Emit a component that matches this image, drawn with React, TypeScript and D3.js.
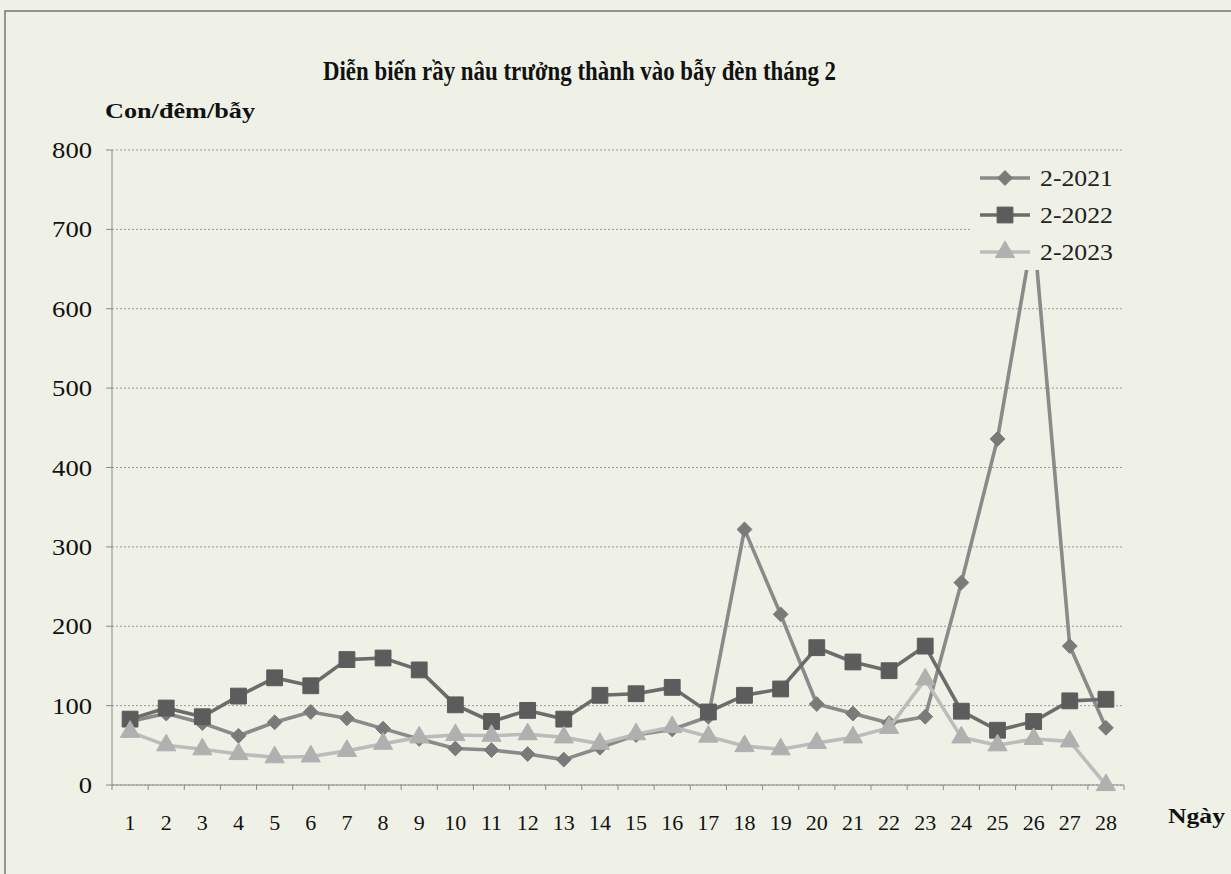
import React from 'react';
import * as d3 from 'd3';

const days = ['1','2','3','4','5','6','7','8','9','10','11','12','13','14','15','16','17','18','19','20','21','22','23','24','25','26','27','28'];
const s2021 = [80, 90, 78, 62, 79, 92, 84, 71, 58, 46, 44, 39, 32, 47, 63, 70, 86, 322, 215, 102, 90, 78, 86, 255, 436, 700, 175, 72];
const s2022 = [83, 97, 86, 112, 135, 125, 158, 160, 145, 101, 80, 94, 83, 113, 115, 123, 92, 113, 121, 173, 155, 144, 175, 93, 69, 80, 106, 108];
const s2023 = [67, 50, 45, 39, 35, 36, 43, 52, 60, 63, 62, 64, 60, 52, 64, 73, 61, 49, 45, 53, 60, 72, 133, 60, 50, 58, 55, 0];
const yTicks = [0, 100, 200, 300, 400, 500, 600, 700, 800];
const seriesNames = ['2-2021', '2-2022', '2-2023'];

const W = 1231;
const H = 874;
const BG = '#eff1e7';
const FONT = '"Liberation Serif", "Times New Roman", serif';

export default function App() {
  const x = d3.scaleBand<string>().domain(days).range([112, 1124]).paddingInner(0).paddingOuter(0);
  const y = d3.scaleLinear().domain([0, 800]).range([785, 150]);
  const cx = (d: string) => (x(d) as number) + x.bandwidth() / 2;

  const series = [
    { name: seriesNames[0], values: s2021, line: '#8a8a8a', fill: '#7a7a7a', symbol: d3.symbolDiamond2, size: 140 },
    { name: seriesNames[1], values: s2022, line: '#6c6c6c', fill: '#5c5c5c', symbol: d3.symbolSquare, size: 250 },
    { name: seriesNames[2], values: s2023, line: '#bcbcbc', fill: '#b0b0b0', symbol: d3.symbolTriangle, size: 160 },
  ];

  const lineGen = d3.line<number>()
    .x((_, i) => cx(days[i]))
    .y((v) => y(v));

  const symbolPath = (s: any, size: number) => d3.symbol().type(s).size(size)() as string;

  const [x0, x1] = x.range();

  return (
    <svg width={W} height={H} style={{ position: 'absolute', left: 0, top: 0, background: BG }} fontFamily={FONT}>
      <rect x={0} y={0} width={W} height={H} fill={BG} />
      <rect x={5} y={11} width={W + 20} height={H + 20} fill="none" stroke="#777" strokeWidth={1.5} />

      {/* title */}
      <text x={323} y={80} fontSize={28} fontWeight="bold" fill="#111" fontFamily={FONT}
        textLength={513} lengthAdjust="spacingAndGlyphs">
        Diễn biến rầy nâu trưởng thành vào bẫy đèn tháng 2
      </text>
      <text x={105} y={118} fontSize={22} fontWeight="bold" fill="#111" fontFamily={FONT}
        textLength={150} lengthAdjust="spacingAndGlyphs">Con/đêm/bẫy</text>

      {/* gridlines */}
      {yTicks.map((t) => (
        <line key={'g' + t} x1={x0} x2={x1} y1={y(t)} y2={y(t)} stroke="#9a9a9a" strokeWidth={1} strokeDasharray="2,2" />
      ))}
      {/* y axis */}
      <line x1={x0} x2={x0} y1={y(800)} y2={y(0)} stroke="#8a8a8a" strokeWidth={1} />
      {yTicks.map((t) => {
        const label = String(t);
        return (
          <g key={'yt' + t}>
            <line x1={x0 - 6} x2={x0} y1={y(t)} y2={y(t)} stroke="#8a8a8a" />
            <text x={92 - label.length * 13.3} y={y(t) + 8} fontSize={24} fill="#111" fontFamily={FONT}
              textLength={label.length * 13.3} lengthAdjust="spacingAndGlyphs">{label}</text>
          </g>
        );
      })}
      {/* x axis */}
      <line x1={x0} x2={x1} y1={y(0)} y2={y(0)} stroke="#8a8a8a" strokeWidth={1} />
      {days.map((d) => (
        <line key={'xt' + d} x1={x(d) as number} x2={x(d) as number} y1={y(0)} y2={y(0) + 5} stroke="#8a8a8a" />
      ))}
      <line x1={x1} x2={x1} y1={y(0)} y2={y(0) + 5} stroke="#8a8a8a" />
      {days.map((d) => (
        <text key={'xl' + d} x={cx(d)} y={830} textAnchor="middle" fontSize={22} fill="#111" fontFamily={FONT}>{d}</text>
      ))}
      <text x={1168} y={823} fontSize={22} fontWeight="bold" fill="#111" fontFamily={FONT}
        textLength={57} lengthAdjust="spacingAndGlyphs">Ngày</text>

      {/* series */}
      {series.map((s) => (
        <g key={s.name}>
          <path d={lineGen(s.values) as string} fill="none" stroke={s.line} strokeWidth={3.6} strokeLinejoin="round" />
          {s.values.map((v, i) => (
            <path
              key={i}
              d={symbolPath(s.symbol, s.size)}
              transform={`translate(${cx(days[i])},${y(v)})`}
              fill={s.fill}
              stroke={s.fill}
              strokeWidth={1}
            />
          ))}
        </g>
      ))}

      {/* legend */}
      <rect x={972} y={158} width={150} height={112} fill={BG} />
      {series.map((s, i) => {
        const ly = 178 + i * 37;
        return (
          <g key={'lg' + s.name}>
            <line x1={980} x2={1030} y1={ly} y2={ly} stroke={s.line} strokeWidth={3.6} />
            <path d={symbolPath(s.symbol, s.size)} transform={`translate(1005,${ly})`} fill={s.fill} stroke={s.fill} />
            <text x={1040} y={ly + 8} fontSize={23} fill="#222" fontFamily={FONT}
              textLength={73} lengthAdjust="spacingAndGlyphs">{s.name}</text>
          </g>
        );
      })}
    </svg>
  );
}
